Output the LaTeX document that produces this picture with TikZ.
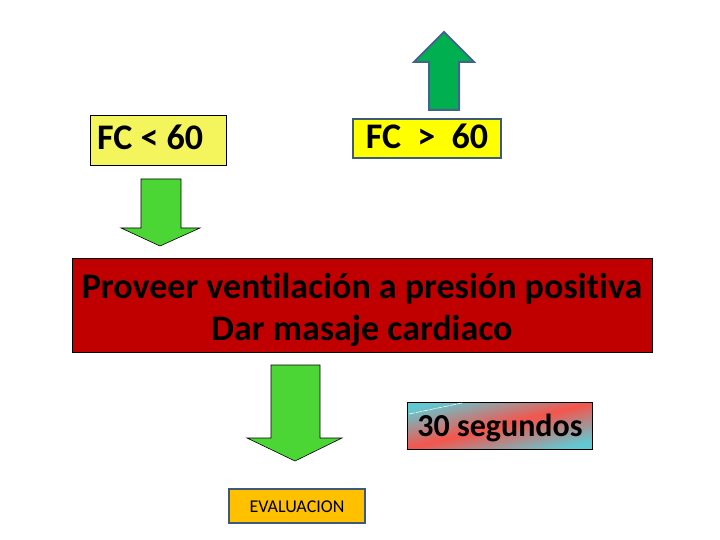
\documentclass[tikz,border=0pt]{standalone}
\usepackage{fontspec}
\setmainfont{Carlito}[Ligatures=NoCommon]
\definecolor{lyel}{HTML}{F4F45C}
\definecolor{yel}{HTML}{FFFF00}
\definecolor{slate}{HTML}{3D5A7A}
\definecolor{upgreen}{HTML}{00B050}
\definecolor{upedge}{HTML}{41658A}
\definecolor{dngreen}{HTML}{4CD636}
\definecolor{dred}{HTML}{C00000}
\definecolor{amber}{HTML}{FFC000}
\definecolor{teal}{HTML}{62C8D2}
\definecolor{salmon}{HTML}{F4554C}
\tikzset{
  dnarrow/.style={fill=dngreen,draw=black,line width=0.6pt},
  uparrow/.style={fill=upgreen,draw=upedge,line width=2pt,line join=miter},
  bigtxt/.style={font=\fontsize{36}{43}\selectfont\bfseries,inner sep=0pt},
}
\begin{document}
\begin{tikzpicture}[x=1pt,y=-1pt]
\useasboundingbox (0,0) rectangle (720,540);
% up arrow
\draw[uparrow] (444,32) -- (474,62) -- (459,62) -- (459,110) -- (429,110) -- (429,62) -- (414,62) -- cycle;
% boxes FC
\draw[fill=lyel,draw=black,line width=0.6pt] (90,115) rectangle (226,165);
\node[bigtxt,anchor=base west] (fclt) at (97,150) {FC < 60};
\draw[fill=yel,draw=slate,line width=2pt] (353,119) rectangle (501,158);
\node[bigtxt,anchor=base] (fcgt) at (427,149) {FC\ \ >\ \ 60};
% down arrow 1
\draw[dnarrow] (141,179) -- (181,179) -- (181,228) -- (200,228) -- (160,246) -- (121,228) -- (141,228) -- cycle;
% red box
\draw[fill=dred,draw=black,line width=0.6pt] (72,258) rectangle (652,352);
\node[bigtxt,anchor=base] (l1) at (362,298) {Proveer ventilación a presión positiva};
\node[bigtxt,anchor=base] (l2) at (362,340) {Dar masaje cardiaco};
% down arrow 2
\draw[dnarrow] (271,365) -- (320,365) -- (320,438) -- (342,438) -- (295,461) -- (247,438) -- (271,438) -- cycle;
% 30 segundos
\begin{scope}
\clip (407,402) rectangle (592,449);
\shade[top color=teal,bottom color=teal,middle color=salmon,shading angle=14] (407,402) rectangle (592,449);
\end{scope}
\draw[black,line width=0.6pt] (407,402) rectangle (592,449);
\draw[white,line width=0.6pt,dash pattern=on 6pt off 1pt] (409,414) -- (462,403);
\node[font=\fontsize{32}{38}\selectfont\bfseries,inner sep=0pt,anchor=base] (seg) at (500,436) {30 segundos};
% evaluacion
\draw[fill=amber,draw=slate,line width=2pt] (229,489) rectangle (365,523);
\node[font=\fontsize{18}{22}\selectfont,inner sep=0pt,anchor=base] (ev) at (297,512) {EVALUACION};
\end{tikzpicture}
\end{document}
